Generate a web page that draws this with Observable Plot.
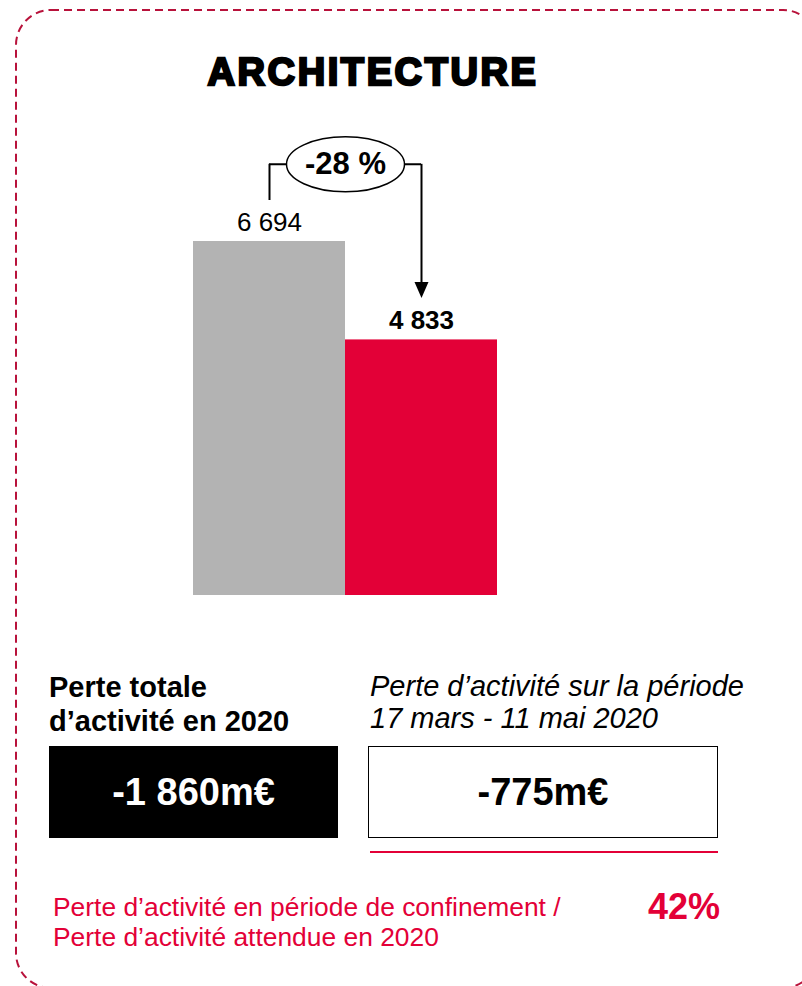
<!DOCTYPE html>
<html>
<head>
<meta charset="utf-8">
<script src="https://cdn.jsdelivr.net/npm/d3@7"></script>
<script src="https://cdn.jsdelivr.net/npm/@observablehq/plot@0.6"></script>
<style>
  html, body { margin: 0; padding: 0; background: #fff; }
  #page { position: relative; width: 802px; height: 986px; overflow: hidden; font-family: "Liberation Sans", Arial, sans-serif; color: #000; }
  #border { position: absolute; left: 0; top: 0; }
  #title { position: absolute; left: 373px; top: 53px; transform: translateX(-50%); font-size: 38px; line-height: 38px; font-weight: 700; letter-spacing: 2.6px; -webkit-text-stroke: 2.4px #000; white-space: nowrap; }
  #chart { position: absolute; left: 0; top: 120px; }
  .abs { position: absolute; white-space: nowrap; }
  #leftHead { left: 49px; top: 670px; font-size: 29px; line-height: 34px; font-weight: 700; }
  #rightHead { left: 370px; top: 670px; font-size: 29px; line-height: 32px; font-style: italic; }
  .box { position: absolute; top: 746px; height: 92px; box-sizing: border-box; display: flex; align-items: center; justify-content: center; font-size: 38px; font-weight: 700; }
  #boxTotal { left: 49px; width: 289px; background: #000; color: #fff; }
  #boxPeriod { left: 368px; width: 350px; background: #fff; color: #000; border: 1.5px solid #000; }
  #redLine { position: absolute; left: 370px; top: 851px; width: 348px; height: 2px; background: #E30037; }
  #ratioText { left: 53px; top: 893px; font-size: 26.4px; line-height: 29.5px; color: #E30037; }
  #ratioValue { left: 648px; top: 889px; font-size: 36px; line-height: 36px; font-weight: 700; color: #E30037; }
</style>
</head>
<body>
<div id="page">
  <svg id="border" width="802" height="986"><rect x="16" y="10" width="802" height="978" rx="35" ry="35" fill="none" stroke="#B8123B" stroke-width="2" stroke-dasharray="8 5"></rect></svg>
  <div id="title"></div>
  <div id="chart"></div>
  <div id="leftHead" class="abs"></div>
  <div id="rightHead" class="abs"></div>
  <div id="boxTotal" class="box"></div>
  <div id="boxPeriod" class="box"></div>
  <div id="redLine"></div>
  <div id="ratioText" class="abs"></div>
  <div id="ratioValue" class="abs"></div>
</div>
<script>
// ---- data ----
const title = "ARCHITECTURE";
const categories = ["Activité attendue 2020", "Activité réelle 2020"];
const values = [6694, 4833];
const valueLabels = ["6 694", "4 833"];
const barColors = ["#B3B3B3", "#E30037"];
const changeLabel = "-28 %";
const leftHeading = ["Perte totale", "d’activité en 2020"];
const rightHeading = ["Perte d’activité sur la période", "17 mars - 11 mai 2020"];
const totalLoss = "-1 860m€";
const periodLoss = "-775m€";
const ratioLines = ["Perte d’activité en période de confinement /", "Perte d’activité attendue en 2020"];
const ratioValue = "42%";

// ---- text blocks ----
document.getElementById("title").textContent = title;
document.getElementById("leftHead").innerHTML = leftHeading.join("<br>");
document.getElementById("rightHead").innerHTML = rightHeading.join("<br>");
document.getElementById("boxTotal").textContent = totalLoss;
document.getElementById("boxPeriod").textContent = periodLoss;
document.getElementById("ratioText").innerHTML = ratioLines.join("<br>");
document.getElementById("ratioValue").textContent = ratioValue;

// ---- chart ----
const bars = categories.map((c, i) => ({i, category: c, value: values[i], label: valueLabels[i]}));
const level = values[0] * 1.218; // height of the comparison bracket

const ellipse = {
  draw(ctx) {
    const rx = 59, ry = 27.5, k = 0.5523;
    ctx.moveTo(rx, 0);
    ctx.bezierCurveTo(rx, ry * k, rx * k, ry, 0, ry);
    ctx.bezierCurveTo(-rx * k, ry, -rx, ry * k, -rx, 0);
    ctx.bezierCurveTo(-rx, -ry * k, -rx * k, -ry, 0, -ry);
    ctx.bezierCurveTo(rx * k, -ry, rx, -ry * k, rx, 0);
    ctx.closePath();
  }
};
const arrowHead = {
  draw(ctx) {
    ctx.moveTo(-7, -8);
    ctx.lineTo(7, -8);
    ctx.lineTo(0, 8);
    ctx.closePath();
  }
};

const chart = Plot.plot({
  width: 802,
  height: 500,
  marginLeft: 193,
  marginRight: 305,
  marginTop: 121,
  marginBottom: 25,
  x: {type: "linear", domain: [-0.5, 1.5], axis: null},
  y: {domain: [0, values[0]], axis: null},
  color: {domain: categories, range: barColors},
  style: {fontFamily: "Liberation Sans, Arial, sans-serif", overflow: "visible"},
  marks: [
    Plot.rectY(bars, {x1: d => d.i - 0.5, x2: d => d.i + 0.5, y: "value", fill: "category"}),
    Plot.ruleX([bars[0]], {x: "i", y1: () => level, y2: "value", insetBottom: 41, stroke: "#000", strokeWidth: 2}),
    Plot.ruleY([level], {x1: 0, x2: 1, stroke: "#000", strokeWidth: 2}),
    Plot.ruleX([bars[1]], {x: "i", y1: () => level, y2: "value", insetBottom: 56, stroke: "#000", strokeWidth: 2}),
    Plot.dot([bars[1]], {x: "i", y: "value", dy: -50, symbol: arrowHead, fill: "#000", stroke: "none"}),
    Plot.dot([{x: 0.5, y: level}], {x: "x", y: "y", symbol: ellipse, fill: "#fff", stroke: "#000", strokeWidth: 1.5}),
    Plot.text([{x: 0.5, y: level}], {x: "x", y: "y", text: () => changeLabel, fontSize: 31, fontWeight: "bold", fill: "#000"}),
    Plot.text([bars[0]], {x: "i", y: "value", text: "label", dy: -19, fontSize: 26, fill: "#000"}),
    Plot.text([bars[1]], {x: "i", y: "value", text: "label", dy: -19, fontSize: 26, fontWeight: "bold", fill: "#000"})
  ]
});
document.getElementById("chart").appendChild(chart);
</script>
</body>
</html>
